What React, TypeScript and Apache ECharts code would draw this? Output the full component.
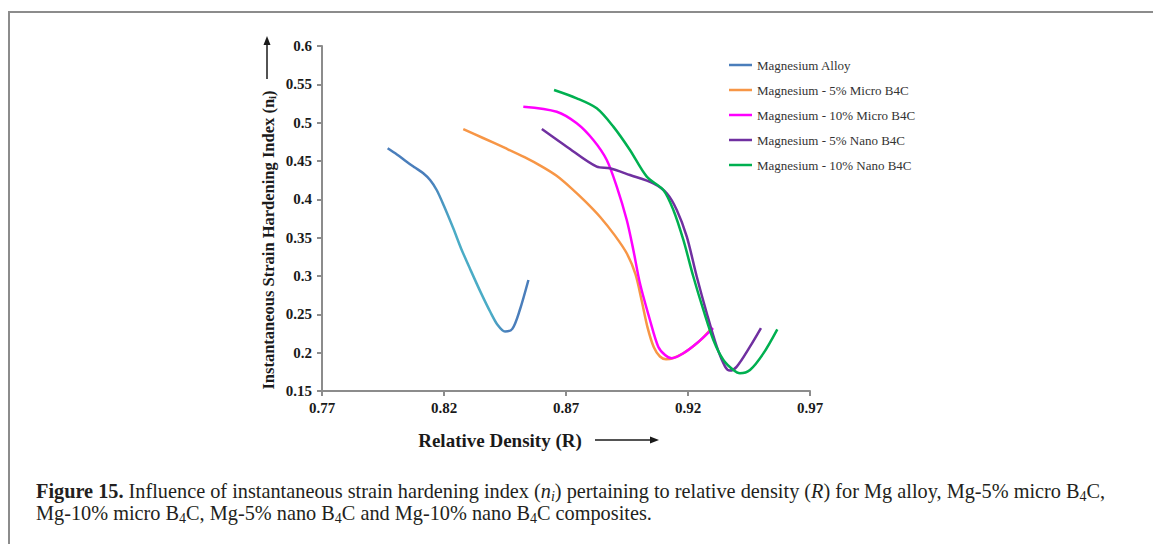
import React, { useEffect, useRef } from "react";
import * as echarts from "echarts";

// Relative density (R) and instantaneous strain hardening index (n_i) for each material
const alloyR = [0.7969, 0.8007, 0.8047, 0.8081, 0.8115, 0.8143, 0.817, 0.82, 0.8238, 0.827, 0.831, 0.835, 0.839, 0.842, 0.845, 0.848, 0.851, 0.8546];
const alloyN = [0.4666, 0.4585, 0.4491, 0.4415, 0.434, 0.4252, 0.4122, 0.3913, 0.3622, 0.336, 0.307, 0.279, 0.253, 0.236, 0.2275, 0.231, 0.255, 0.2948];

const micro5R = [0.8279, 0.836, 0.845, 0.853, 0.86, 0.866, 0.872, 0.878, 0.884, 0.89, 0.895, 0.8985, 0.901, 0.9035, 0.906, 0.9085, 0.911, 0.914, 0.918, 0.922, 0.926, 0.9297];
const micro5N = [0.4917, 0.48, 0.467, 0.455, 0.443, 0.431, 0.415, 0.397, 0.377, 0.353, 0.329, 0.302, 0.268, 0.232, 0.207, 0.195, 0.1915, 0.193, 0.199, 0.208, 0.219, 0.232];

const micro10R = [0.8525, 0.8662, 0.8744, 0.8812, 0.8867, 0.8908, 0.8949, 0.8976, 0.9003, 0.9044, 0.9078, 0.9106, 0.9133, 0.9181, 0.9236, 0.9303];
const micro10N = [0.5209, 0.5143, 0.4992, 0.4774, 0.4513, 0.4165, 0.373, 0.334, 0.2905, 0.2426, 0.2078, 0.1969, 0.1927, 0.1992, 0.2122, 0.232];

const nano5R = [0.8601, 0.8703, 0.8826, 0.888, 0.8962, 0.9058, 0.9113, 0.9154, 0.9195, 0.9236, 0.9277, 0.9318, 0.9352, 0.9372, 0.94, 0.9454, 0.9499];
const nano5N = [0.4917, 0.4687, 0.4426, 0.4405, 0.4317, 0.4209, 0.4079, 0.3861, 0.3513, 0.299, 0.2513, 0.2078, 0.1818, 0.1766, 0.1818, 0.2078, 0.232];

const nano10R = [0.8651, 0.8744, 0.8826, 0.8894, 0.8962, 0.9031, 0.9099, 0.914, 0.9181, 0.9222, 0.9263, 0.9304, 0.9345, 0.9386, 0.9413, 0.9454, 0.9509, 0.9566];
const nano10N = [0.5426, 0.5318, 0.5187, 0.4948, 0.4644, 0.4296, 0.4122, 0.3861, 0.347, 0.299, 0.2557, 0.2165, 0.1904, 0.1774, 0.1731, 0.1774, 0.1991, 0.2305];

const seriesNames = [
  "Magnesium Alloy",
  "Magnesium - 5% Micro B4C",
  "Magnesium - 10% Micro B4C",
  "Magnesium - 5% Nano B4C",
  "Magnesium - 10% Nano B4C",
];
const seriesColors = ["#4a7ebb", "#f79646", "#ff00ff", "#7030a0", "#00b050"];
const seriesR = [alloyR, micro5R, micro10R, nano5R, nano10R];
const seriesN = [alloyN, micro5N, micro10N, nano5N, nano10N];

const xTitle = "Relative Density (R)";
const yTitle = "Instantaneous Strain Hardening Index (n{s|i})";
const captionLine1 =
  "{b|Figure 15.} Influence of instantaneous strain hardening index ({it|n}{its|i}) pertaining to relative density ({it|R}) for Mg alloy, Mg-5% micro B{sub|4}C,";
const captionLine2 =
  "Mg-10% micro B{sub|4}C, Mg-5% nano B{sub|4}C and Mg-10% nano B{sub|4}C composites.";

const SERIF = "'Liberation Serif', 'Times New Roman', serif";
const CAP = 20.3;

export default function App() {
  const ref = useRef<HTMLDivElement>(null);

  useEffect(() => {
    if (!ref.current) return;
    const chart = echarts.init(ref.current, null, { renderer: "svg" });

    // the alloy curve fades to a lighter blue along its steep middle section
    const alloyGradient = new echarts.graphic.LinearGradient(0, 0, 1, 0, [
      { offset: 0, color: "#4a7ebb" },
      { offset: 0.3, color: "#4a7ebb" },
      { offset: 0.47, color: "#4bacc6" },
      { offset: 0.74, color: "#4bacc6" },
      { offset: 0.85, color: "#4a7ebb" },
      { offset: 1, color: "#4a7ebb" },
    ]);

    const captionRich = {
      b: { fontFamily: SERIF, fontSize: CAP, fontWeight: "bold", fill: "#231f20" },
      it: { fontFamily: SERIF, fontSize: CAP, fontStyle: "italic", fill: "#231f20" },
      its: { fontFamily: SERIF, fontSize: 14, fontStyle: "italic", fill: "#231f20", padding: [10, 0, 0, 0] },
      sub: { fontFamily: SERIF, fontSize: 14, fill: "#231f20", padding: [10, 0, 0, 0] },
    };

    const series = seriesNames.map((name, i) => ({
      name,
      type: "line",
      smooth: 0.3,
      symbol: "none",
      data: seriesR[i].map((r, j) => [r, seriesN[i][j]]),
      lineStyle: { width: 2.5, color: i === 0 ? alloyGradient : seriesColors[i] },
      itemStyle: { color: seriesColors[i] },
    }));

    chart.setOption({
      animation: false,
      backgroundColor: "#ffffff",
      grid: { left: 322, right: 343, top: 46, bottom: 153, containLabel: false },
      legend: {
        orient: "vertical",
        left: 724,
        top: 53,
        icon: "rect",
        itemWidth: 23,
        itemHeight: 2.5,
        itemGap: 11,
        data: seriesNames.map((name, i) => ({
          name,
          itemStyle: { color: seriesColors[i] },
        })),
        textStyle: { fontFamily: SERIF, fontSize: 13, lineHeight: 14, color: "#333333" },
      },
      xAxis: {
        type: "value",
        min: 0.77,
        max: 0.97,
        interval: 0.05,
        axisLine: { show: true, lineStyle: { color: "#8c8c8c", width: 2 } },
        axisTick: { show: true, length: 5, lineStyle: { color: "#8c8c8c", width: 2 } },
        splitLine: { show: false },
        axisLabel: {
          margin: 9,
          fontFamily: SERIF,
          fontSize: 15,
          fontWeight: "bold",
          color: "#1a1a1a",
          formatter: (v: number) => v.toFixed(2),
        },
      },
      yAxis: {
        type: "value",
        min: 0.15,
        max: 0.6,
        interval: 0.05,
        axisLine: { show: true, lineStyle: { color: "#8c8c8c", width: 2 } },
        axisTick: { show: true, length: 5, lineStyle: { color: "#8c8c8c", width: 2 } },
        splitLine: { show: false },
        axisLabel: {
          margin: 10,
          fontFamily: SERIF,
          fontSize: 15,
          fontWeight: "bold",
          color: "#1a1a1a",
          formatter: (v: number) => String(Math.round(v * 100) / 100),
        },
      },
      series,
      graphic: [
        // figure frame (left and top edges)
        { type: "line", shape: { x1: 9, y1: 12, x2: 9, y2: 544 }, style: { stroke: "#8c8c8c", lineWidth: 2 } },
        { type: "line", shape: { x1: 8, y1: 12, x2: 1153, y2: 12 }, style: { stroke: "#8c8c8c", lineWidth: 2 } },
        // y-axis title with upward arrow
        {
          type: "text",
          x: 268,
          y: 240,
          rotation: Math.PI / 2,
          style: {
            text: yTitle,
            align: "center",
            verticalAlign: "middle",
            fontFamily: SERIF,
            fontSize: 16.5,
            fontWeight: "bold",
            fill: "#1a1a1a",
            rich: {
              s: { fontFamily: SERIF, fontSize: 11, fontWeight: "bold", fill: "#1a1a1a", padding: [7, 0, 0, 0] },
            },
          },
        },
        { type: "line", shape: { x1: 267, y1: 44, x2: 267, y2: 79 }, style: { stroke: "#1a1a1a", lineWidth: 1.5 } },
        { type: "polygon", shape: { points: [[267, 36], [263.5, 45], [270.5, 45]] }, style: { fill: "#1a1a1a" } },
        // x-axis title with rightward arrow
        {
          type: "text",
          x: 500,
          y: 440,
          style: {
            text: xTitle,
            align: "center",
            verticalAlign: "middle",
            fontFamily: SERIF,
            fontSize: 19,
            fontWeight: "bold",
            fill: "#1a1a1a",
          },
        },
        { type: "line", shape: { x1: 595, y1: 440, x2: 651, y2: 440 }, style: { stroke: "#1a1a1a", lineWidth: 1.5 } },
        { type: "polygon", shape: { points: [[659, 440], [650, 436.5], [650, 443.5]] }, style: { fill: "#1a1a1a" } },
        // caption
        {
          type: "text",
          x: 36,
          y: 491,
          style: {
            text: captionLine1,
            verticalAlign: "middle",
            fontFamily: SERIF,
            fontSize: CAP,
            fill: "#231f20",
            rich: captionRich,
          },
        },
        {
          type: "text",
          x: 36,
          y: 513,
          style: {
            text: captionLine2,
            verticalAlign: "middle",
            fontFamily: SERIF,
            fontSize: CAP,
            fill: "#231f20",
            rich: captionRich,
          },
        },
      ],
    });

    return () => chart.dispose();
  }, []);

  return (
    <div
      ref={ref}
      style={{ position: "fixed", left: 0, top: 0, width: 1153, height: 544, background: "#fff" }}
    />
  );
}
